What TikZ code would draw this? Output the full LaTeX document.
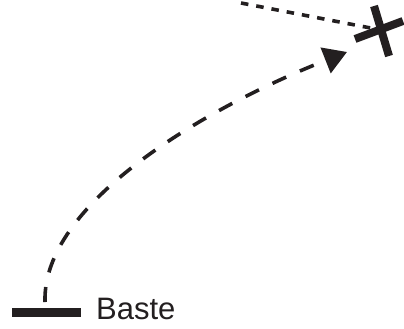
\documentclass[tikz,border=0pt]{standalone}
\usepackage{fontspec}
\setmainfont{Liberation Sans}
\usetikzlibrary{arrows.meta,positioning,calc}
\definecolor{InkBlack}{HTML}{231F20}

\begin{document}
\begin{tikzpicture}[x=1pt, y=-1pt,
  trail/.style={draw=InkBlack, line width=3.6pt, dash pattern=on 15pt off 15pt},
  sightline/.style={draw=InkBlack, line width=3.6pt, dash pattern=on 7.5pt off 8pt},
  arm/.style={draw=InkBlack, line width=8pt},
  groundbar/.style={fill=InkBlack, minimum width=69pt, minimum height=9pt, inner sep=0pt},
  tag/.style={font=\fontsize{31}{37}\selectfont, text=InkBlack, inner sep=0pt, anchor=base west}
]
\useasboundingbox (0,0) rectangle (404,329);
\node[groundbar] (base) at (46.5,312.5) {};
\node[tag] (name) at (96,319) {Baste};
\coordinate (lift) at (45,302);
\coordinate (tip) at (347,52);
\coordinate (far) at (241,3);
\coordinate (aim) at (381,30);
% target mark
\draw[sightline] (far) -- (aim);
\draw[arm] ($(aim)+(-7,-24)$) -- ($(aim)+(8,26)$);
\draw[arm] ($(aim)+(-26,9)$) -- ($(aim)+(22,-9)$);
% flight
\draw[trail, -{Triangle[length=23pt,width=27pt]}] (lift) .. controls (42,205) and (200,110) .. (tip);
\end{tikzpicture}
\end{document}
